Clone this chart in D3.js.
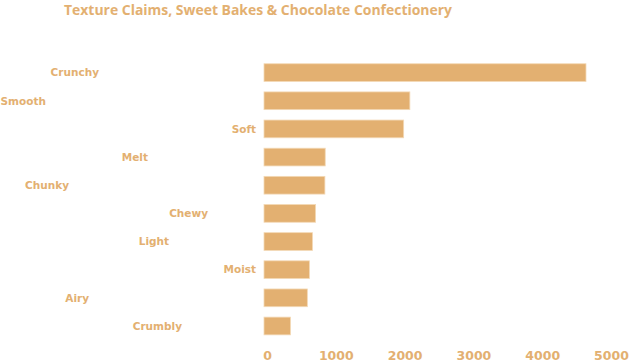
<!DOCTYPE html>
<html><head><meta charset="utf-8">
<script src="https://cdn.jsdelivr.net/npm/d3@7"></script>
<style>
body{margin:0;background:#fff;}
svg text{font-family:"DejaVu Sans",sans-serif;font-weight:bold;fill:#e3b071;}
</style></head>
<body><svg id="c" width="629" height="364"></svg>
<script>
const categories = ["Crunchy","Smooth","Soft","Melt","Chunky","Chewy","Light","Moist","Airy","Crumbly"];
const values = [4680,2120,2030,890,885,750,705,660,630,385];
const tickValues = [0,1000,2000,3000,4000,5000];
const title = "Texture Claims, Sweet Bakes & Chocolate Confectionery";
// horizontal offsets of category labels (layout only)
const labelShift = [-157,-210,0,-108,-187,-48,-87,0,-167,-74];

const svg = d3.select("#c");
const color = "#e3b071";
const x = d3.scaleLinear().domain([0,5000]).range([264,608]);
const y = d3.scaleBand().domain(categories).range([59.8,338.8]).paddingInner(0.37).paddingOuter(0.14);

svg.append("text").attr("x",258).attr("y",15).attr("text-anchor","middle")
  .style("font-family","'Open Sans',sans-serif").style("font-weight","700")
  .style("font-size","14.5px").attr("textLength",388).attr("lengthAdjust","spacingAndGlyphs").text(title);

svg.append("g").selectAll("rect").data(categories).join("rect")
  .attr("x",x(0)).attr("y",d=>y(d)).attr("height",y.bandwidth())
  .attr("width",(d,i)=>x(values[i])-x(0))
  .attr("fill",color).attr("stroke","#f3d9b6").attr("stroke-width",0.8);

svg.append("g").selectAll("text").data(categories).join("text")
  .attr("x",(d,i)=>256+labelShift[i]).attr("y",d=>y(d)+y.bandwidth()/2)
  .attr("dy","0.36em").attr("text-anchor","end").style("font-size","10.5px").text(d=>d);

const ax = svg.append("g").attr("transform","translate(3,349)")
  .call(d3.axisBottom(x).tickValues(tickValues).tickSize(0).tickPadding(0).tickFormat(d3.format("d")));
ax.select(".domain").remove();
ax.selectAll("text").style("font-size","12.5px").attr("fill",color).attr("dy","0.9em").attr("y",0);
</script></body></html>
